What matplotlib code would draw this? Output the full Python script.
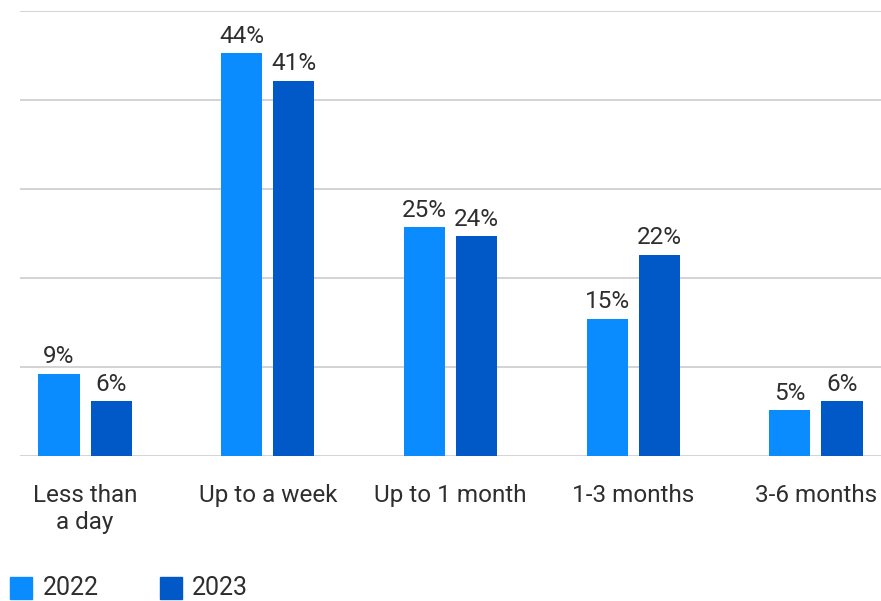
import matplotlib
matplotlib.use("Agg")
import matplotlib.pyplot as plt
from matplotlib.patches import Rectangle
import numpy as np

categories = ["Less than\na day", "Up to a week", "Up to 1 month", "1-3 months", "3-6 months"]
series_names = ["2022", "2023"]
values_2022 = [9, 44, 25, 15, 5]
values_2023 = [6, 41, 24, 22, 6]
colors = ["#0A8CFF", "#0059C6"]

plt.rcParams['font.family'] = ['Roboto', 'DejaVu Sans']
text_color = "#2e2e2e"

fig = plt.figure(figsize=(8.81, 6.01), dpi=100)
ax = fig.add_axes([20/881, 1 - 456/601, 1 - 20/881, (456 - 11)/601])

x = np.arange(len(categories))
w = 0.225
off = 0.1425
for vals, sign, col in [(values_2022, -1, colors[0]), (values_2023, 1, colors[1])]:
    ax.bar(x + sign*off, vals, width=w, color=col, zorder=3)
    for xi, v in zip(x + sign*off, vals):
        ax.annotate(f"{v}%", (xi, v), xytext=(0, 4), textcoords="offset points",
                    ha="center", va="bottom", fontsize=17.5, color=text_color,
                    zorder=4)

ymax = 48.6
ax.set_xlim(-0.356, 4.356)
ax.set_ylim(0, ymax)
ax.set_yticks(np.linspace(0, ymax, 6))
ax.yaxis.grid(True, color="#cfcfd4", linewidth=1.3, zorder=0)
ax.set_yticklabels([])
ax.tick_params(axis="y", length=0)
ax.tick_params(axis="x", length=0, pad=20)
ax.set_xticks(x)
ax.set_xticklabels(categories, fontsize=17.5, color=text_color, va="top",
                   linespacing=1.25)
for s in ax.spines.values():
    s.set_visible(False)

# legend
legend_items = [(10/881, 43/881), (160/881, 192/881)]
for (sx, tx), name, col in zip(legend_items, series_names, colors):
    fig.patches.append(Rectangle((sx, 1 - 599/601), 22/881, 22/601, transform=fig.transFigure,
                                 color=col, figure=fig))
    fig.text(tx, 1 - 588/601, name, fontsize=18, color=text_color, va="center", ha="left")

fig.savefig("out.png", dpi=100, facecolor="white")
